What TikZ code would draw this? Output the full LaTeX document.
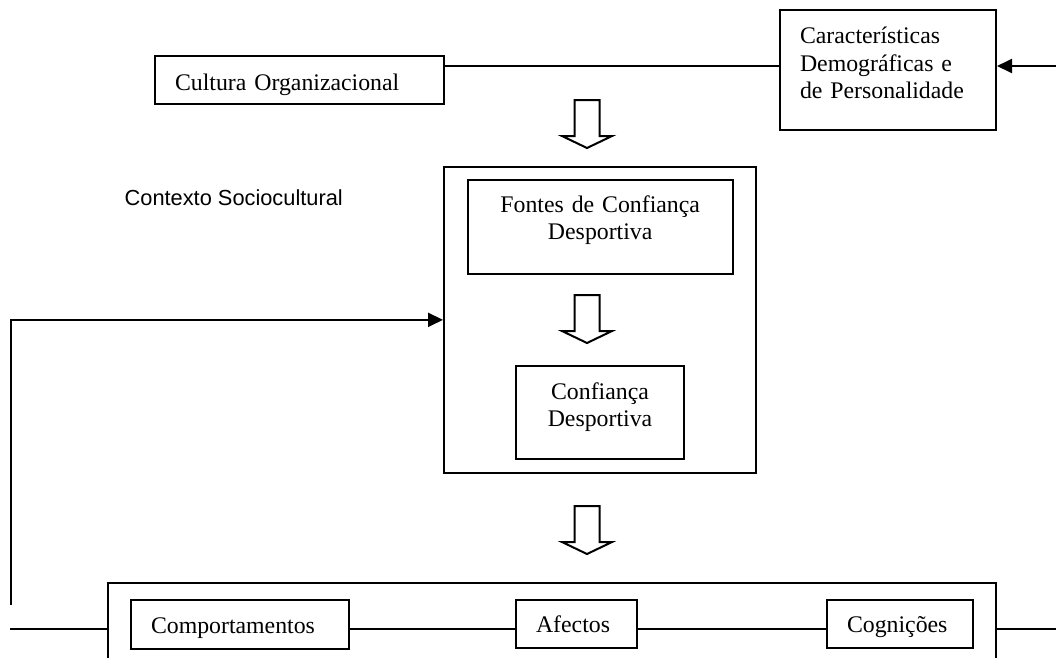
\documentclass[tikz,border=0pt]{standalone}
\usepackage{fontspec}
\setmainfont{Liberation Serif}
\newfontfamily\sansfont{Liberation Sans}
\usetikzlibrary{arrows.meta}

\tikzset{
	frame/.style={draw, line width=2pt, inner sep=0pt, anchor=north west},
	lbox/.style={frame, inner xsep=20pt, align=left, font=\fontsize{23.8}{27.3}\selectfont},
	cbox/.style={lbox, align=center},
	link/.style={line width=2pt},
	feed/.style={link, -{Triangle[length=15pt,width=14pt]}},
	downarrow/.pic={\draw[link] (-12.5,0) -- (-12.5,36) -- (-25,36) -- (0,48) -- (25,36) -- (12.5,36) -- (12.5,0) -- cycle;}
}

\begin{document}
\begin{tikzpicture}[x=1pt, y=-1pt]
	\useasboundingbox (0,0) rectangle (1056,657);
	\clip (0,0) rectangle (1056,657);
	% top row
	\node[lbox, text width=249pt, text height=34.3pt, text depth=13.7pt] (cult) at (154,55) {Cultura Organizacional};
	\node[lbox, text width=176pt, text height=33.4pt, text depth=86.3pt] (carac) at (779,9.3) {Características\\Demográficas e\\de Personalidade};
	\coordinate (topin) at (1056,66);
	\draw[feed] (topin) -- (carac.east |- topin);
	\draw[link] (cult.east |- topin) -- (carac.west |- topin);
	\pic at (587,100) {downarrow};
	% middle
	\node[font=\sansfont\fontsize{21.8}{26}\selectfont, anchor=base east, inner sep=0pt] (ctx) at (343,205) {Contexto Sociocultural};
	\node[frame, minimum width=312pt, minimum height=306.3pt] (core) at (443,165.7) {};
	\node[cbox, text width=225pt, text height=32pt, text depth=61.7pt] (fontes) at (466.7,179) {Fontes de Confiança\\Desportiva};
	\pic at (587,295) {downarrow};
	\node[cbox, text width=128pt, text height=33.3pt, text depth=59.7pt] (conf) at (515,365) {Confiança\\Desportiva};
	\pic at (587,506) {downarrow};
	% bottom
	\node[frame, minimum width=888.3pt, minimum height=120pt] (outcome) at (106.7,581.7) {};
	\node[lbox, text width=177.7pt, text height=33pt, text depth=15.4pt] (comp) at (130,599.3) {Comportamentos};
	\node[lbox, text width=80.7pt, text height=32.7pt, text depth=15pt] (aff) at (515,599) {Afectos};
	\node[lbox, text width=105.7pt, text height=32.4pt, text depth=15.6pt] (cogn) at (826,599.3) {Cognições};
	\coordinate (busl) at (10,629);
	\coordinate (busr) at (1056,629);
	\draw[link] (busl) -- (outcome.west |- busl);
	\draw[link] (comp.east |- busl) -- (aff.west |- busl);
	\draw[link] (aff.east |- busl) -- (cogn.west |- busl);
	\draw[link] (outcome.east |- busr) -- (busr);
	% feedback
	\coordinate (fb) at (11,605);
	\draw[feed] (fb) |- (core.west);
\end{tikzpicture}
\end{document}
